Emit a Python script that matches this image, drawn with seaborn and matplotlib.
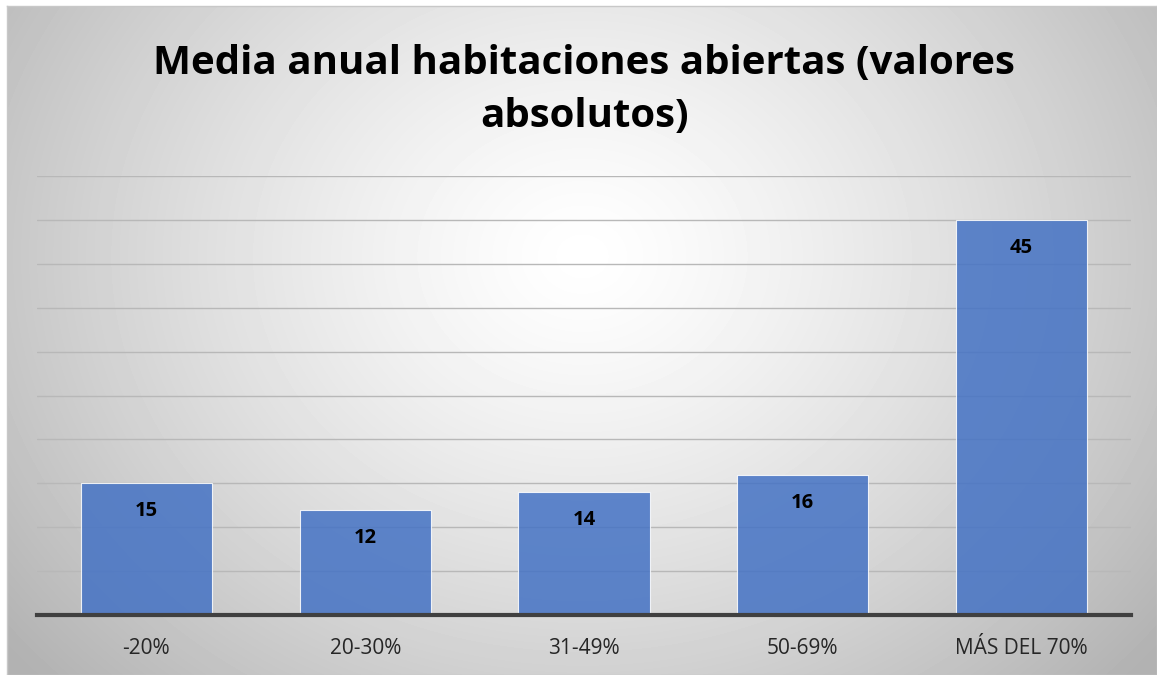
import numpy as np
import matplotlib
matplotlib.use('Agg')
import matplotlib.pyplot as plt
import seaborn as sns

# Data
categories = ['-20%', '20-30%', '31-49%', '50-69%', 'MÁS DEL 70%']
values = [15, 12, 14, 16, 45]
title = 'Media anual habitaciones abiertas (valores\nabsolutos)'

sns.set_style('white')
plt.rcParams['font.family'] = ['Open Sans', 'DejaVu Sans']

fig = plt.figure(figsize=(11.57, 6.75), dpi=100)

# radial gradient background
bg = fig.add_axes([7 / 1157, 0, 1 - 7 / 1157, 1 - 6 / 675])
yy, xx = np.mgrid[0:669, 0:1150]
cx, cy = 575, 250
r = np.sqrt(((xx - cx) / 620.0) ** 2 + ((yy - cy) / 520.0) ** 2)
shade = 1.0 - 0.24 * np.clip(r, 0, 1.2) ** 1.3
bg.imshow(shade, cmap='gray', vmin=0, vmax=1, aspect='auto', interpolation='bilinear')
bg.set_xticks([])
bg.set_yticks([])
for s in bg.spines.values():
    s.set_color('#c8c8c8')
    s.set_linewidth(1)

ax = fig.add_axes([37 / 1157, 1 - 615 / 675, (1131 - 37) / 1157, (615 - 176) / 675])
ax.patch.set_alpha(0)

sns.barplot(x=categories, y=values, color='#4472C4', width=0.6, alpha=0.85,
            edgecolor='white', linewidth=0.8, saturation=1, ax=ax, zorder=3)

ax.set_ylim(0, 50)
ax.set_yticks(np.arange(0, 51, 5))
ax.yaxis.grid(True, color='#b8b8b8', linewidth=1, zorder=0)
ax.set_axisbelow(True)
ax.tick_params(axis='y', left=False, labelleft=False)
ax.tick_params(axis='x', bottom=False, labelsize=15, pad=13, colors='#262626')
for s in ['top', 'right', 'left']:
    ax.spines[s].set_visible(False)
ax.spines['bottom'].set_color('#404040')
ax.spines['bottom'].set_linewidth(3)
ax.spines['bottom'].set_zorder(5)
ax.set_xlabel('')
ax.set_ylabel('')

for i, v in enumerate(values):
    ax.text(i, v - 3.2, str(v), ha='center', va='center', fontsize=14.5,
            fontweight='bold', color='black', zorder=6)

fig.text(0.505, 1 - 90 / 675, title, ha='center', va='center', fontsize=29,
         fontweight='bold', color='black', linespacing=1.45)

fig.savefig('out.png', dpi=100)
